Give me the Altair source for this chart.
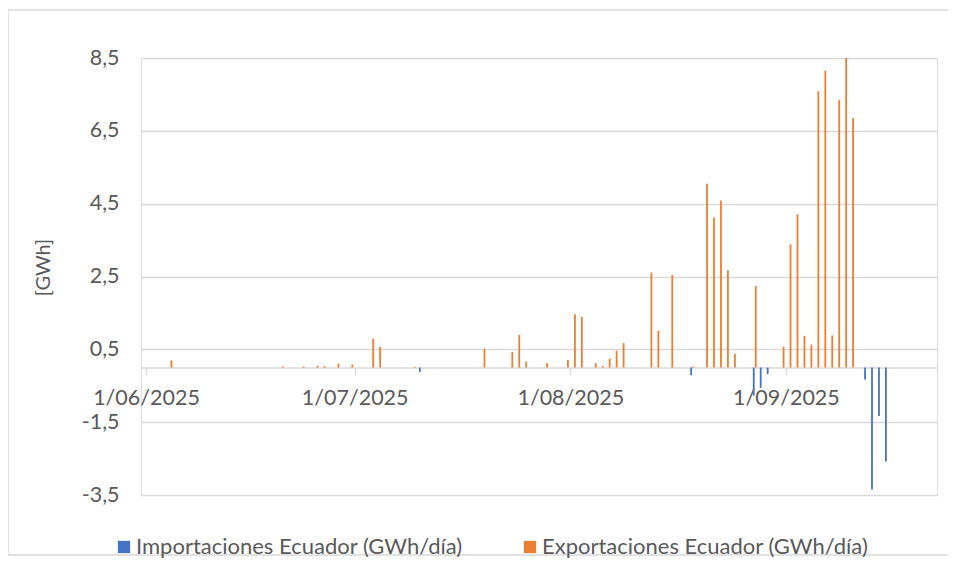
import altair as alt
import pandas as pd

# ---- data ----
export_dates = [
    "2025-06-04", "2025-06-20", "2025-06-23", "2025-06-25", "2025-06-26", "2025-06-28", "2025-06-30",
    "2025-07-03", "2025-07-04", "2025-07-09", "2025-07-19", "2025-07-23", "2025-07-24", "2025-07-25",
    "2025-07-28", "2025-07-31", "2025-08-01", "2025-08-02", "2025-08-04", "2025-08-05", "2025-08-06",
    "2025-08-07", "2025-08-08", "2025-08-12", "2025-08-13", "2025-08-15", "2025-08-18", "2025-08-20",
    "2025-08-21", "2025-08-22", "2025-08-23", "2025-08-24", "2025-08-27", "2025-08-31", "2025-09-01",
    "2025-09-02", "2025-09-03", "2025-09-04", "2025-09-05", "2025-09-06", "2025-09-07", "2025-09-08",
    "2025-09-09", "2025-09-10",
]
export_values = [
    0.20, 0.03, 0.03, 0.05, 0.04, 0.11, 0.08,
    0.79, 0.57, 0.02, 0.52, 0.43, 0.90, 0.16,
    0.12, 0.21, 1.46, 1.39, 0.12, 0.04, 0.25,
    0.46, 0.67, 2.61, 1.01, 2.54, 0.03, 5.05,
    4.12, 4.59, 2.67, 0.38, 2.24, 0.57, 3.38,
    4.21, 0.87, 0.63, 7.59, 8.15, 0.88, 7.34,
    8.50, 6.85,
]
import_dates = [
    "2025-07-10", "2025-08-18", "2025-08-27", "2025-08-28", "2025-08-29",
    "2025-09-12", "2025-09-13", "2025-09-14", "2025-09-15",
]
import_values = [-0.12, -0.21, -0.77, -0.56, -0.18, -0.33, -3.35, -1.33, -2.58]

series_names = ["Importaciones Ecuador (GWh/día)", "Exportaciones Ecuador (GWh/día)"]
series_colors = ["#4472C4", "#ED7D31"]
y_ticks = [-3.5, -1.5, 0.5, 2.5, 4.5, 6.5, 8.5]
month_ticks = [(2025, 6, 1), (2025, 7, 1), (2025, 8, 1), (2025, 9, 1)]

df = pd.concat([
    pd.DataFrame({"fecha": pd.to_datetime(import_dates), "valor": import_values, "serie": series_names[0]}),
    pd.DataFrame({"fecha": pd.to_datetime(export_dates), "valor": export_values, "serie": series_names[1]}),
], ignore_index=True)

W, H = 796, 437
Y_MIN, Y_MAX = -3.5, 8.5
zero_from_bottom = H * (0 - Y_MIN) / (Y_MAX - Y_MIN)
GRAY_TXT = "#595959"
GRID = "#d9d9d9"
FONT = "Lato"

x_enc = alt.X(
    "fecha:T",
    title=None,
    scale=alt.Scale(domain=[alt.DateTime(year=2025, month=6, date=1),
                            alt.DateTime(year=2025, month=9, date=22)]),
    axis=alt.Axis(
        values=[alt.DateTime(year=y, month=m, date=d) for (y, m, d) in month_ticks],
        format="%-d/%m/%Y",
        offset=-zero_from_bottom,
        grid=False,
        domainColor=GRID, domainWidth=1.5,
        tickColor=GRID, tickWidth=1.5, tickSize=7,
        labelColor=GRAY_TXT, labelFontSize=21.5, labelFont=FONT,
        labelPadding=13,
    ),
)
y_enc = alt.Y(
    "valor:Q",
    title="[GWh]",
    scale=alt.Scale(domain=[Y_MIN, Y_MAX], nice=False, zero=False),
    axis=alt.Axis(
        values=y_ticks,
        labelExpr="replace(replace(format(datum.value, '.1f'), '.', ','), '\u2212', '-')",
        domain=False, ticks=False,
        gridColor=GRID, gridWidth=1.5,
        labelColor=GRAY_TXT, labelFontSize=21.5, labelFont=FONT,
        labelPadding=22,
        titleColor=GRAY_TXT, titleFontSize=20, titleFont=FONT, titleFontWeight="normal",
        titleX=-98, titleY=209, titleAngle=-90, titleAlign="center", titleBaseline="middle",
    ),
)
color_enc = alt.Color(
    "serie:N",
    scale=alt.Scale(domain=series_names, range=series_colors),
    legend=alt.Legend(
        title=None, orient="none", direction="horizontal", columns=2,
        legendX=-28, legendY=478,
        symbolType="square", symbolSize=150, symbolStrokeWidth=0,
        labelFontSize=22, labelFont=FONT, labelColor=GRAY_TXT,
        labelLimit=600, columnPadding=56, labelOffset=1,
    ),
)

base = alt.Chart(df).encode(x=x_enc, y=y_enc, y2=alt.datum(0), color=color_enc)
imports = base.transform_filter(alt.datum.serie == series_names[0]).mark_bar(width=1.8, xOffset=2.6)
exports = base.transform_filter(alt.datum.serie == series_names[1]).mark_bar(width=1.8, xOffset=4.6)

border = alt.Chart(pd.DataFrame({"k": [0]})).mark_rect(
    fillOpacity=0, stroke=GRID, strokeWidth=1.5
).encode(x=alt.value(-133), x2=alt.value(W + 40), y=alt.value(-48), y2=alt.value(H + 60))

chart = alt.layer(border, imports, exports).properties(
    width=W, height=H,
    padding={"left": 133, "top": 50, "right": 11, "bottom": 72},
    autosize=alt.AutoSizeParams(type="none"),
).configure_view(stroke=None).configure(font=FONT)

chart.save("out.html", embed_options={"renderer": "svg", "actions": False})
